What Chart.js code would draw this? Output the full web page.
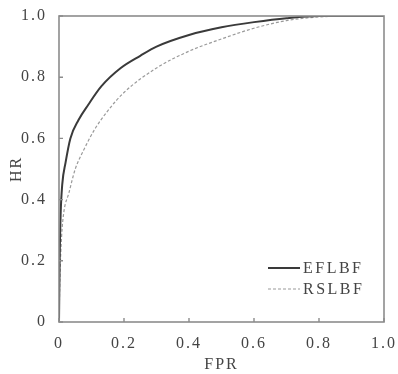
<!DOCTYPE html>
<html>
<head>
<meta charset="utf-8">
<script src="https://cdn.jsdelivr.net/npm/chart.js@4.4.0/dist/chart.umd.min.js"></script>
<style>
	html, body { margin: 0; padding: 0; background: #fff; }
	#wrap { width: 398px; height: 374px; }
</style>
</head>
<body>
<div id="wrap"><canvas id="roc" width="398" height="374"></canvas></div>
<script>
// values
const eflbfFpr = [0, 0.002, 0.005, 0.01, 0.02, 0.035, 0.06, 0.09, 0.13, 0.19, 0.25, 0.3, 0.4, 0.5, 0.6, 0.7, 0.8, 0.9, 1.0];
const eflbfHr = [0, 0.2, 0.35, 0.45, 0.52, 0.6, 0.66, 0.71, 0.77, 0.83, 0.87, 0.9, 0.938, 0.963, 0.98, 0.993, 1.0, 1.0, 1.0];
const rslbfFpr = [0, 0.003, 0.008, 0.015, 0.03, 0.05, 0.075, 0.11, 0.15, 0.2, 0.3, 0.4, 0.5, 0.6, 0.7, 0.8, 0.9, 1.0];
const rslbfHr = [0, 0.15, 0.28, 0.36, 0.42, 0.5, 0.56, 0.63, 0.69, 0.75, 0.83, 0.885, 0.925, 0.96, 0.985, 0.997, 1.0, 1.0];
const tickValues = [0, 0.2, 0.4, 0.6, 0.8, 1.0];
const tickLabels = ['0', '0.2', '0.4', '0.6', '0.8', '1.0'];
const seriesNames = ['EFLBF', 'RSLBF'];

const toPoints = (xs, ys) => xs.map((x, i) => ({ x: x, y: ys[i] }));
const labelFor = (v) => {
	let i = tickValues.findIndex((t) => Math.abs(t - v) < 1e-6);
	return i >= 0 ? tickLabels[i] : '';
};

const FONT = '"Liberation Serif", "Times New Roman", serif';
const TEXT = '#444';

// the scanned figure has wide, loose lettering
const spacing = {
	id: 'spacing',
	beforeDraw(chart) {
		chart.ctx.letterSpacing = '2px';
	}
};

// box, inward ticks and legend
const frame = {
	id: 'frame',
	afterDatasetsDraw(chart) {
		let { ctx, chartArea: a, scales } = chart;
		ctx.save();
		ctx.strokeStyle = '#8c8c8c';
		ctx.lineWidth = 1.6;
		ctx.strokeRect(a.left, a.top, a.right - a.left, a.bottom - a.top);
		ctx.lineWidth = 1.4;
		tickValues.forEach((v) => {
			let px = scales.x.getPixelForValue(v);
			let py = scales.y.getPixelForValue(v);
			ctx.beginPath();
			ctx.moveTo(px, a.bottom);
			ctx.lineTo(px, a.bottom - 4);
			ctx.moveTo(a.left, py);
			ctx.lineTo(a.left + 4, py);
			ctx.stroke();
		});

		// legend
		ctx.font = '16px ' + FONT;
		ctx.letterSpacing = '2.5px';
		ctx.textBaseline = 'middle';
		ctx.fillStyle = TEXT;
		chart.data.datasets.forEach((ds, i) => {
			let y = 268 + i * 21;
			ctx.strokeStyle = ds.borderColor;
			ctx.lineWidth = ds.borderWidth;
			ctx.setLineDash(ds.borderDash || []);
			ctx.beginPath();
			ctx.moveTo(268, y);
			ctx.lineTo(300, y);
			ctx.stroke();
			ctx.setLineDash([]);
			ctx.fillText(ds.label, 303, y + 1);
		});
		ctx.restore();
	}
};

let ctx = document.getElementById('roc').getContext('2d');
let myChart = new Chart(ctx, {
	type: 'line',
	data: {
		datasets: [
			{
				label: seriesNames[0],
				data: toPoints(eflbfFpr, eflbfHr),
				borderColor: '#3a3a3a',
				borderWidth: 2,
				pointRadius: 0,
				cubicInterpolationMode: 'monotone'
			},
			{
				label: seriesNames[1],
				data: toPoints(rslbfFpr, rslbfHr),
				borderColor: '#9a9a9a',
				borderWidth: 1.2,
				borderDash: [3, 2],
				pointRadius: 0,
				cubicInterpolationMode: 'monotone'
			}
		]
	},
	options: {
		responsive: false,
		animation: false,
		layout: {
			padding: { left: 0, right: 14, top: 16, bottom: 0 }
		},
		scales: {
			x: {
				type: 'linear',
				min: 0,
				max: 1,
				grid: { display: false },
				border: { display: false },
				afterBuildTicks: (scale) => {
					scale.ticks = tickValues.map((v) => ({ value: v }));
				},
				afterFit: (scale) => {
					scale.height = 52;
				},
				ticks: {
					padding: 4,
					color: TEXT,
					font: { family: FONT, size: 16 },
					maxRotation: 0,
					callback: (v) => labelFor(v)
				},
				title: {
					display: true,
					text: 'FPR',
					color: TEXT,
					font: { family: FONT, size: 16 },
					padding: { top: 0, bottom: 0 }
				}
			},
			y: {
				type: 'linear',
				min: 0,
				max: 1,
				grid: { display: false },
				border: { display: false },
				afterBuildTicks: (scale) => {
					scale.ticks = tickValues.map((v) => ({ value: v }));
				},
				afterFit: (scale) => {
					scale.width = 59;
				},
				ticks: {
					padding: 4,
					color: TEXT,
					font: { family: FONT, size: 16 },
					callback: (v) => labelFor(v)
				},
				title: {
					display: true,
					text: 'HR',
					color: TEXT,
					font: { family: FONT, size: 16 },
					padding: { top: 7, bottom: 0 }
				}
			}
		},
		plugins: {
			legend: { display: false },
			tooltip: { enabled: false }
		}
	},
	plugins: [spacing, frame]
});
</script>
</body>
</html>
